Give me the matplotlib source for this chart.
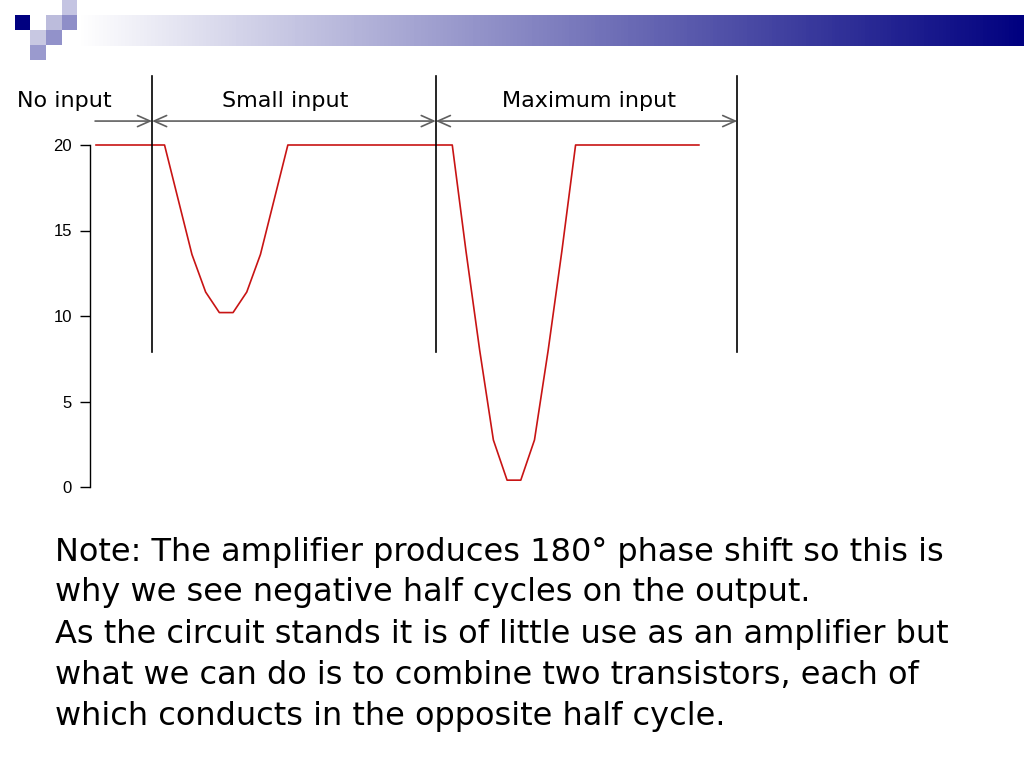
import numpy as np
import matplotlib.pyplot as plt
from matplotlib.patches import Rectangle

# output voltage sampled along time (one sample per step)
samples = list(range(45))
output = ([20] * 6
          + [16.8, 13.6, 11.4, 10.2, 10.2, 11.4, 13.6, 16.8]
          + [20] * 13
          + [13.8, 8.0, 2.75, 0.4, 0.4, 2.75, 8.0, 13.8]
          + [20] * 10)

y_ticks = [0, 5, 10, 15, 20]
region_edges = [-0.07, 4.09, 24.8, 46.8]
region_labels = ["No input", "Small input", "Maximum input"]
region_label_x = [-2.35, 13.8, 36.0]

note_lines = [
    "Note: The amplifier produces 180\u00b0 phase shift so this is",
    "why we see negative half cycles on the output.",
    "As the circuit stands it is of little use as an amplifier but",
    "what we can do is to combine two transistors, each of",
    "which conducts in the opposite half cycle.",
]

W, H = 1024, 768
fig = plt.figure(figsize=(W / 100, H / 100), dpi=100)

# slide decoration: squares top-left and gradient bar
def px_rect(x, y, w, h, color):
    fig.patches.append(Rectangle((x / W, 1 - (y + h) / H), w / W, h / H,
                                 transform=fig.transFigure, color=color, lw=0))

px_rect(15, 15, 15, 15, "#000080")
px_rect(62, 0, 15, 15, "#c4c4e2")
px_rect(46, 15, 16, 15, "#bcbcdc")
px_rect(62, 15, 15, 15, "#8e8ec8")
px_rect(30, 30, 16, 15, "#c8c8e2")
px_rect(46, 30, 16, 15, "#9292ca")
px_rect(30, 45, 16, 15, "#9a9ace")

bar = fig.add_axes([77 / W, 1 - 46 / H, (W - 77) / W, 31 / H])
t = np.linspace(0, 1, 256)
grad = np.zeros((1, 256, 3))
grad[0, :, 0] = 1 - t
grad[0, :, 1] = 1 - t
grad[0, :, 2] = 1 - t * (1 - 128 / 255)
bar.imshow(grad, aspect="auto", extent=(0, 1, 0, 1))
bar.axis("off")

# chart
ax = fig.add_axes([90 / W, 1 - 487 / H, (740 - 90) / W, (487 - 145) / H])
ax.plot(samples, output, color="#c81414", lw=1.2, clip_on=False)
ax.set_xlim(-0.44, 47.0)
ax.set_ylim(0, 20)
ax.set_yticks(y_ticks)
ax.set_xticks([])
for s in ["top", "right", "bottom"]:
    ax.spines[s].set_visible(False)
ax.spines["left"].set_linewidth(1.0)
ax.tick_params(axis="y", length=7, width=1.0, pad=6, labelsize=12)
for lab in ax.get_yticklabels():
    lab.set_fontfamily("Liberation Sans")

# region markers
for xe in region_edges[1:]:
    ax.plot([xe, xe], [7.9, 24.05], color="black", lw=1.2, clip_on=False)

arrow_y = 21.4
for i in range(3):
    style = "->" if i == 0 else "<->"
    ax.annotate("", xy=(region_edges[i + 1], arrow_y), xytext=(region_edges[i], arrow_y),
                arrowprops=dict(arrowstyle=style + ",head_length=0.9,head_width=0.4",
                                color="#606060", lw=1.2, shrinkA=0, shrinkB=0),
                annotation_clip=False)
    ax.text(region_label_x[i], 22.6, region_labels[i], ha="center", va="center",
            fontsize=16, clip_on=False)

# note text
for k, line in enumerate(note_lines):
    fig.text(55 / W, 1 - (552 + 41 * k) / H, line, ha="left", va="center", fontsize=23)

fig.savefig("out.png", dpi=100)
